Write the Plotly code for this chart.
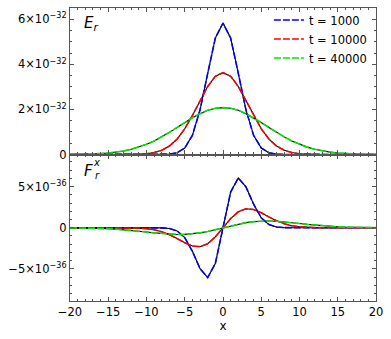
import plotly.graph_objects as go
from plotly.subplots import make_subplots

x_vals = [-20, -19, -18, -17, -16, -15, -14, -13, -12, -11, -10, -9, -8, -7, -6, -5, -4, -3, -2, -1,
          0, 1, 2, 3, 4, 5, 6, 7, 8, 9, 10, 11, 12, 13, 14, 15, 16, 17, 18, 19, 20]

labels = ["t = 1000", "t = 10000", "t = 40000"]
colors = ["#0000ff", "#ff0000", "#00e600"]

E_SCALE = 1e-32
F_SCALE = 1e-36

# E_r (units of 1e-32)
E_t1000 = [0, 0, 0, 0, 0, 0, 0, 0, 0, 0, 0, 0, 0.003, 0.016, 0.077, 0.289, 0.852, 1.98, 3.60, 5.17,
           5.83, 5.17, 3.60, 1.98, 0.852, 0.289, 0.077, 0.016, 0.003, 0, 0, 0, 0, 0, 0, 0, 0, 0, 0, 0, 0]
E_t10000 = [0, 0, 0, 0, 0, 0, 0, 0.001, 0.005, 0.013, 0.035, 0.085, 0.188, 0.376, 0.686, 1.14, 1.73, 2.39, 3.02, 3.47,
            3.63, 3.47, 3.02, 2.39, 1.73, 1.14, 0.686, 0.376, 0.188, 0.085, 0.035, 0.013, 0.005, 0.001, 0, 0, 0, 0, 0, 0, 0]
E_t40000 = [0.005, 0.008, 0.015, 0.025, 0.042, 0.067, 0.104, 0.157, 0.230, 0.327, 0.451, 0.603, 0.782, 0.983, 1.20, 1.42, 1.63, 1.81, 1.96, 2.05,
            2.08, 2.05, 1.96, 1.81, 1.63, 1.42, 1.20, 0.983, 0.782, 0.603, 0.451, 0.327, 0.230, 0.157, 0.104, 0.067, 0.042, 0.025, 0.015, 0.008, 0.005]

# F_r^x (units of 1e-36)
F_t1000 = [0, 0, 0, 0, 0, 0, 0, 0, 0, 0, 0, -0.002, -0.018, -0.095, -0.387, -1.21, -2.86, -4.97, -6.05, -4.34,
           0, 4.34, 6.05, 4.97, 2.86, 1.21, 0.387, 0.095, 0.018, 0.002, 0, 0, 0, 0, 0, 0, 0, 0, 0, 0, 0]
F_t10000 = [0, 0, 0, 0, 0, 0, -0.002, -0.006, -0.018, -0.047, -0.114, -0.246, -0.482, -0.844, -1.32, -1.83, -2.22, -2.30, -1.94, -1.11,
            0, 1.11, 1.94, 2.30, 2.22, 1.83, 1.32, 0.844, 0.482, 0.246, 0.114, 0.047, 0.018, 0.006, 0.002, 0, 0, 0, 0, 0, 0]
F_t40000 = [-0.010, -0.018, -0.030, -0.048, -0.076, -0.114, -0.166, -0.233, -0.315, -0.410, -0.514, -0.618, -0.713, -0.784, -0.820, -0.809, -0.742, -0.620, -0.446, -0.233,
            0, 0.233, 0.446, 0.620, 0.742, 0.809, 0.820, 0.784, 0.713, 0.618, 0.514, 0.410, 0.315, 0.233, 0.166, 0.114, 0.076, 0.048, 0.030, 0.018, 0.010]

E_series = [E_t1000, E_t10000, E_t40000]
F_series = [F_t1000, F_t10000, F_t40000]

E_tickvals = [0, 2, 4, 6]
E_ticktext = ["0", "2×10<sup>−32</sup>", "4×10<sup>−32</sup>", "6×10<sup>−32</sup>"]
F_tickvals = [-5, 0, 5]
F_ticktext = ["−5×10<sup>−36</sup>", "0", "5×10<sup>−36</sup>"]
x_tickvals = [-20, -15, -10, -5, 0, 5, 10, 15, 20]
x_ticktext = ["−20", "−15", "−10", "−5", "0", "5", "10", "15", "20"]

FONT = "DejaVu Sans"
AX_COLOR = "#555555"

fig = make_subplots(rows=2, cols=1, shared_xaxes=True, vertical_spacing=0)

for row, series, scale in [(1, E_series, E_SCALE), (2, F_series, F_SCALE)]:
    for i, vals in enumerate(series):
        yv = [v * scale for v in vals]
        fig.add_trace(go.Scatter(x=x_vals, y=yv, mode="lines",
                                 line=dict(color="black", width=1.1),
                                 showlegend=False, hoverinfo="skip"), row=row, col=1)
    for i, vals in enumerate(series):
        yv = [v * scale for v in vals]
        fig.add_trace(go.Scatter(x=x_vals, y=yv, mode="lines", name=labels[i],
                                 line=dict(color=colors[i], width=1.6, dash="7px,2px"),
                                 showlegend=(row == 1)), row=row, col=1)

axis_common = dict(showline=True, linecolor=AX_COLOR, linewidth=1.4, mirror="ticks",
                   ticks="inside", ticklen=4, tickcolor=AX_COLOR, tickwidth=1,
                   showgrid=False, zeroline=False,
                   tickfont=dict(family=FONT, size=11.5, color="black"))

fig.update_xaxes(range=[-20, 20], tickvals=x_tickvals, ticktext=x_ticktext,
                 minor=dict(ticks="inside", ticklen=2, dtick=1, tickcolor=AX_COLOR, showgrid=False),
                 **axis_common)
fig.update_xaxes(showticklabels=False, row=1, col=1)
fig.update_xaxes(title=dict(text="x", font=dict(family=FONT, size=12, color="black"), standoff=3),
                 row=2, col=1)

fig.update_yaxes(range=[0, 6.5e-32], tickvals=[v * E_SCALE for v in E_tickvals], ticktext=E_ticktext,
                 minor=dict(ticks="inside", ticklen=2, dtick=0.5e-32, tickcolor=AX_COLOR, showgrid=False),
                 row=1, col=1, **axis_common)
fig.update_yaxes(range=[-8.9e-36, 8.9e-36], tickvals=[v * F_SCALE for v in F_tickvals], ticktext=F_ticktext,
                 minor=dict(ticks="inside", ticklen=2, dtick=1e-36, tickcolor=AX_COLOR, showgrid=False),
                 row=2, col=1, **axis_common)

fig.add_annotation(text="<i>E<sub>r</sub></i>", xref="x domain", yref="y domain", x=0.04, y=0.975,
                   xanchor="left", yanchor="top", showarrow=False,
                   font=dict(family=FONT, size=15, color="black"))
fig.add_annotation(text="<i>F</i>", xref="x2 domain", yref="y2 domain", x=0.04, y=0.96,
                   xanchor="left", yanchor="top", showarrow=False,
                   font=dict(family=FONT, size=15, color="black"))
fig.add_annotation(text="<i>x</i><br><i>r</i>", xref="x2 domain", yref="y2 domain", x=0.07, y=1.0,
                   xanchor="left", yanchor="top", showarrow=False,
                   font=dict(family=FONT, size=10, color="black"))

fig.update_layout(width=391, height=339, margin=dict(l=70, r=15, t=7, b=38),
                  plot_bgcolor="white", paper_bgcolor="white",
                  legend=dict(x=0.65, y=1.005, xanchor="left", yanchor="top",
                              bgcolor="rgba(0,0,0,0)", tracegroupgap=0,
                              font=dict(family=FONT, size=11.5, color="black")),
                  showlegend=True)

fig.write_html("out.html", config={"displayModeBar": False},
               post_script="document.body.style.margin='0px';")
